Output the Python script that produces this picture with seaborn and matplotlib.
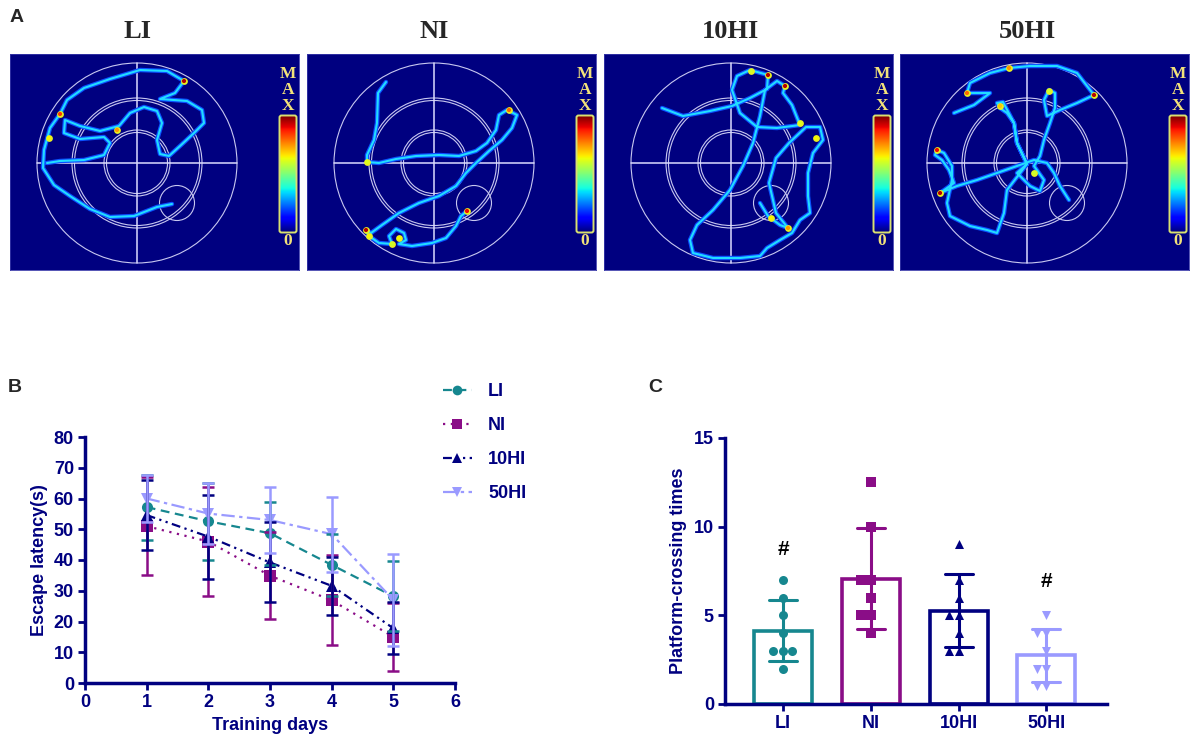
import numpy as np
import pandas as pd
import matplotlib
matplotlib.use('Agg')
import matplotlib.pyplot as plt
import seaborn as sns
from matplotlib.lines import Line2D
from matplotlib.patches import Circle, FancyBboxPatch

groups = ['LI', 'NI', '10HI', '50HI']
colors = ['#16878f', '#8a0d87', '#000080', '#9a9aff']
markers = ['o', 's', '^', 'v']
navy = '#000080'

# B: escape latency (mean, SD) per training day
days = [1, 2, 3, 4, 5]
lat_mean = {
    'LI':   [57.2, 52.6, 48.7, 38.4, 28.2],
    'NI':   [51.0, 46.0, 34.9, 26.9, 15.0],
    '10HI': [54.6, 47.6, 39.2, 31.6, 17.8],
    '50HI': [60.0, 55.1, 53.0, 48.4, 27.0],
}
lat_sd = {
    'LI':   [10.6, 12.5, 10.2, 10.0, 11.4],
    'NI':   [16.0, 17.7, 14.2, 14.6, 11.0],
    '10HI': [11.5, 13.7, 13.0, 9.5, 8.4],
    '50HI': [7.5, 9.8, 10.6, 12.2, 15.0],
}

# C: platform crossings per animal
cross = {
    'LI':   [7, 6, 5, 4, 3, 3, 3, 2],
    'NI':   [12.5, 10, 7, 7, 6, 5, 5, 4],
    '10HI': [9, 7, 6, 5, 5, 4, 3, 3],
    '50HI': [5, 4, 4, 3, 2, 2, 1, 1],
}
sig_marks = {'LI': 8.7, '50HI': 6.9}

# A: swim tracks, pool-centred coords (pool radius = 100)
tracks = {
    'LI': [(35, -41), (20, -44), (-3, -53), (-27, -54), (-47, -46), (-67, -33), (-83, -22),
           (-94, -5), (-93, 13), (-87, 35), (-77, 49), (-70, 63), (-53, 75), (-27, 84),
           (3, 93), (30, 92), (47, 82), (38, 70), (23, 64), (50, 62), (65, 53), (67, 40),
           (57, 30), (43, 17), (32, 7), (23, 9), (20, 23), (25, 40), (20, 52), (7, 56),
           (-7, 50), (-18, 37), (-37, 32), (-57, 37), (-72, 43), (-73, 30), (-57, 24),
           (-33, 26), (-27, 20), (-33, 8), (-53, 3), (-77, 2), (-90, 0)],
    'NI': [(-48, 81), (-56, 70), (-57, 40), (-60, 23), (-67, 8), (-67, 1), (-55, 0), (-38, 4),
           (-18, 7), (5, 8), (25, 7), (42, 12), (53, 20), (62, 33), (65, 48), (73, 53),
           (83, 48), (78, 35), (68, 23), (55, 12), (42, 0), (32, -10), (22, -23), (5, -33),
           (-15, -40), (-35, -50), (-52, -62), (-63, -70), (-68, -67), (-65, -73), (-55, -80),
           (-42, -81), (-45, -73), (-38, -66), (-30, -70), (-28, -77), (-35, -81), (-22, -83),
           (-2, -80), (12, -75), (22, -63), (27, -53), (33, -48)],
    '10HI': [(-69, 55), (-48, 47), (-21, 52), (1, 57), (19, 65), (36, 74), (37, 88), (19, 93),
             (6, 87), (1, 73), (9, 50), (26, 36), (46, 35), (69, 38), (61, 58), (52, 70),
             (54, 77), (46, 82), (34, 73), (29, 47), (22, 20), (12, -3), (-1, -27), (-18, -47),
             (-34, -62), (-41, -77), (-38, -90), (-18, -95), (9, -95), (29, -93), (36, -85),
             (49, -77), (61, -70), (69, -57), (79, -50), (77, -33), (77, -10), (82, 10),
             (92, 23), (89, 36), (75, 36), (58, 20), (45, 5), (38, -20), (45, -50),
             (57, -65), (49, -62), (37, -53), (29, -40)],
    '50HI': [(-73, 50), (-53, 58), (-37, 70), (-60, 70), (-57, 80), (-37, 90), (-18, 95),
             (3, 97), (30, 97), (50, 90), (67, 68), (50, 60), (33, 53), (20, 47), (17, 63),
             (22, 73), (28, 70), (28, 55), (23, 40), (17, 23), (13, 7), (7, -3), (17, -17),
             (13, -28), (3, -23), (-10, -10), (0, -1), (-10, 20), (-13, 40), (-20, 50),
             (-27, 55), (-30, 60), (-24, 61), (-13, 40), (-10, 20), (0, -1), (-20, -27),
             (-23, -50), (-30, -70), (-40, -67), (-57, -63), (-77, -53), (-80, -40),
             (-75, -17), (-75, -3), (-83, 10), (-90, 13), (-92, 8), (-85, 3), (-78, -7),
             (-73, -20), (-87, -30), (-70, -23), (-50, -17), (-30, -10), (-10, -3), (7, 3),
             (20, 0), (27, -10), (33, -23), (42, -37)],
}
# slow spots: x, y, heat level (0..1)
hotspots = {
    'LI': [(47, 82, 0.95), (-77, 49, 0.85), (-20, 33, 0.75), (-88, 25, 0.65)],
    'NI': [(-68, -67, 0.95), (33, -48, 0.9), (-65, -73, 0.65), (-67, 1, 0.62),
           (-35, -75, 0.65), (75, 53, 0.8), (-42, -81, 0.6)],
    '10HI': [(37, 88, 0.95), (54, 77, 0.95), (85, 25, 0.65), (57, -65, 0.75),
             (40, -55, 0.65), (69, 40, 0.62), (20, 92, 0.6)],
    '50HI': [(-60, 70, 0.8), (-18, 95, 0.75), (67, 68, 0.95), (-90, 13, 0.9),
             (-87, -30, 0.95), (-27, 57, 0.7), (22, 72, 0.6), (7, -10, 0.6)],
}
ring_radii = [100, 65, 62.5, 33, 30.5]
platform = (40, -40)

sns.set_style('ticks')
plt.rcParams['font.family'] = ['Liberation Sans', 'DejaVu Sans']
plt.rcParams['font.weight'] = 'bold'
plt.rcParams['axes.labelweight'] = 'bold'
serif = ['Liberation Serif', 'DejaVu Serif']

fig = plt.figure(figsize=(11.9, 7.47), dpi=100)

# ---------- panel A ----------
img_left = [10, 307, 604, 900]
for name, left in zip(groups, img_left):
    ax = fig.add_axes([left / 1190, 1 - 270 / 747, 289 / 1190, 216 / 747])
    ax.set_facecolor(navy)
    for r in ring_radii:
        ax.add_patch(Circle((0, 0), r, fill=False, ec='#c8c8f0', lw=0.8))
    ax.plot([-100, 100], [0, 0], color='#dcdcff', lw=1.1)
    ax.plot([0, 0], [-100, 100], color='#dcdcff', lw=1.1)
    ax.add_patch(Circle(platform, 17.5, fill=False, ec='#c8c8f0', lw=0.8))

    xs, ys = zip(*tracks[name])
    ax.plot(xs, ys, color='#0a50ff', lw=3.2, solid_joinstyle='round', solid_capstyle='round')
    ax.plot(xs, ys, color='#22dcff', lw=1.5, solid_joinstyle='round', solid_capstyle='round')
    hx, hy, hl = zip(*hotspots[name])
    ax.scatter(hx, hy, s=24, c='#e8f020', lw=0, zorder=3)
    ax.scatter(hx, hy, s=9, c=[plt.cm.jet(v) for v in hl], lw=0, zorder=3)

    # colour scale of the track heat map
    grad = np.linspace(0, 1, 128).reshape(-1, 1)
    ax.imshow(grad, cmap='jet', origin='lower', extent=(143, 159, -69, 47),
              aspect='auto', zorder=3)
    ax.add_patch(FancyBboxPatch((142.5, -69.5), 17, 117,
                                boxstyle='round,pad=0,rounding_size=2',
                                fill=False, ec='#d8e070', lw=1.4, zorder=4))
    ax.text(151, 49, 'M\nA\nX', color='#f2e27a', fontsize=12.5, ha='center',
            va='bottom', linespacing=1.0, family=serif)
    ax.text(151, -78, '0', color='#f2e27a', fontsize=12.5, ha='center', va='center',
            family=serif)
    ax.text(0, 132, name, fontsize=19, ha='center', va='center', clip_on=False,
            family=serif)
    ax.set_xlim(-127, 162)
    ax.set_ylim(-107, 109)
    ax.set_aspect('auto')
    ax.set_xticks([])
    ax.set_yticks([])
    for s in ax.spines.values():
        s.set_edgecolor('#3838a8')
        s.set_linewidth(0.6)

# ---------- panel B ----------
dash_map = {'LI': (4, 2.5), 'NI': (1, 2.5), '10HI': (4, 2, 1, 2, 1, 2), '50HI': (6, 2, 1.5, 2)}
pal = dict(zip(groups, colors))
rows = []
for g in groups:
    for d, m in zip(days, lat_mean[g]):
        rows.append({'day': d, 'latency': m, 'group': g})
df_b = pd.DataFrame(rows)

ax_b = fig.add_axes([85 / 1190, 1 - 683 / 747, 370 / 1190, 246 / 747])
sns.lineplot(data=df_b, x='day', y='latency', hue='group', style='group',
             hue_order=groups, style_order=groups, palette=pal, dashes=dash_map,
             markers=dict(zip(groups, markers)), markersize=8, markeredgewidth=0,
             linewidth=1.6, errorbar=None, legend=False, ax=ax_b)
for g, c in zip(groups, colors):
    ax_b.errorbar(days, lat_mean[g], yerr=lat_sd[g], fmt='none', ecolor=c,
                  elinewidth=1.8, capsize=4, capthick=1.8)
ax_b.set_xlim(0, 6)
ax_b.set_ylim(0, 80)
ax_b.set_xticks(range(0, 7))
ax_b.set_yticks(range(0, 81, 10))
ax_b.set_xlabel('Training days', fontsize=13, color=navy, labelpad=4)
ax_b.set_ylabel('Escape latency(s)', fontsize=13, color=navy, labelpad=4)

handles = [Line2D([], [], color=c, ls=(0, dash_map[g]), marker=m, markersize=7,
                  mew=0, lw=1.6) for g, c, m in zip(groups, colors, markers)]
fig.legend(handles, groups, loc='upper left', bbox_to_anchor=(443 / 1190, 1 - 383 / 747),
           frameon=False, handlelength=1.6, handletextpad=0.9, labelspacing=0.95,
           borderpad=0, borderaxespad=0, prop={'size': 13, 'weight': 'bold'},
           labelcolor=navy)

# ---------- panel C ----------
df_c = pd.DataFrame([{'group': g, 'crossings': v} for g in groups for v in cross[g]])
ax_c = fig.add_axes([725 / 1190, 1 - 704 / 747, 382 / 1190, 266 / 747])
sns.barplot(data=df_c, x='group', y='crossings', hue='group', order=groups,
            hue_order=groups, palette=pal, errorbar='sd', capsize=0.32, fill=False,
            width=0.66, linewidth=2.6, err_kws={'linewidth': 2.2}, legend=False, ax=ax_c)
for g, c, m in zip(groups, colors, markers):
    sns.swarmplot(x=[g] * len(cross[g]), y=cross[g], order=groups, color=c,
                  marker=m, size=6.5, ax=ax_c)
for g, y in sig_marks.items():
    ax_c.text(groups.index(g), y, '#', fontsize=15, ha='center', va='center', color='black')
ax_c.set_xlim(-0.66, 3.69)
ax_c.set_ylim(0, 15)
ax_c.set_yticks([0, 5, 10, 15])
ax_c.set_xlabel('')
ax_c.set_ylabel('Platform-crossing times', fontsize=13, color=navy, labelpad=5)

for ax in (ax_b, ax_c):
    sns.despine(ax=ax)
    for side in ('left', 'bottom'):
        ax.spines[side].set_color(navy)
        ax.spines[side].set_linewidth(2.5)
    ax.tick_params(color=navy, width=2, length=5, labelsize=13, labelcolor=navy, pad=3)

fig.text(10 / 1190, 1 - 18 / 747, 'A', fontsize=14, va='center', ha='left')
fig.text(8 / 1190, 1 - 387 / 747, 'B', fontsize=14, va='center', ha='left')
fig.text(648 / 1190, 1 - 387 / 747, 'C', fontsize=14, va='center', ha='left')

fig.savefig('out.png', dpi=100)
